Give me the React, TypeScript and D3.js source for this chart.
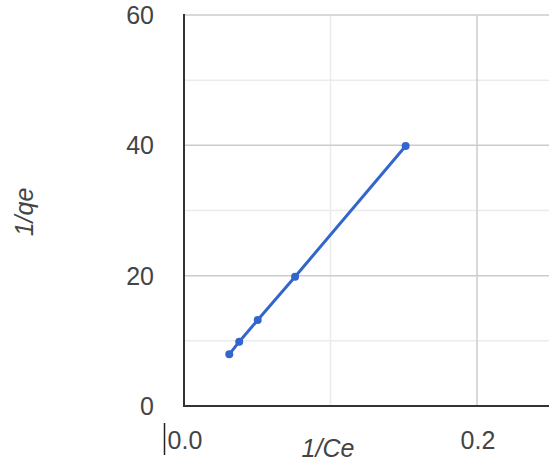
import React from "react";
import * as d3 from "d3";

const invCe = [0.0309, 0.0377, 0.0503, 0.0758, 0.1513];
const invQe = [7.93, 9.87, 13.2, 19.84, 39.9];
const yMajorTicks = [0, 20, 40, 60];
const yMinorTicks = [10, 30, 50];
const xMajorTicks = [0, 0.2];
const xMinorTicks = [0.1];
const xTickLabels = ["0.0", "0.2"];

export default function App() {
  const W = 549, H = 467;
  const x = d3.scaleLinear().domain([0, 0.25]).range([184, 550.25]);
  const y = d3.scaleLinear().domain([0, 60]).range([406, 15]);
  const pts = invCe.map((v, i) => [v, invQe[i]] as [number, number]);
  const line = d3.line<[number, number]>().x(d => x(d[0])).y(d => y(d[1]));
  const font = "Arial, 'Liberation Sans', sans-serif";
  return (
    <svg width={W} height={H} style={{ position: "absolute", left: 0, top: 0, background: "#fff" }}>
      <rect x={0} y={0} width={W} height={H} fill="#fff" />
      {yMinorTicks.map(t => (
        <line key={"ym" + t} x1={x(0)} x2={W} y1={y(t)} y2={y(t)} stroke="#ebebeb" strokeWidth={1.5} />
      ))}
      {xMinorTicks.map(t => (
        <line key={"xm" + t} x1={x(t)} x2={x(t)} y1={y(60)} y2={y(0)} stroke="#ebebeb" strokeWidth={1.5} />
      ))}
      {yMajorTicks.map(t => (
        <line key={"yM" + t} x1={x(0)} x2={W} y1={y(t)} y2={y(t)} stroke="#cccccc" strokeWidth={1.5} />
      ))}
      {xMajorTicks.map(t => (
        <line key={"xM" + t} x1={x(t)} x2={x(t)} y1={y(60)} y2={y(0)} stroke="#cccccc" strokeWidth={1.5} />
      ))}
      <line x1={x(0)} x2={x(0)} y1={y(60) - 1} y2={y(0) + 1} stroke="#333" strokeWidth={2} />
      <line x1={x(0)} x2={W} y1={y(0)} y2={y(0)} stroke="#333" strokeWidth={2} />
      {yMajorTicks.map(t => (
        <text key={"yl" + t} x={154} y={y(t)} dy="0.36em" textAnchor="end" fontFamily={font} fontSize={25} fill="#444">
          {t}
        </text>
      ))}
      {xMajorTicks.map((t, i) => (
        <text key={"xl" + t} x={x(t) + 1} y={449} textAnchor="middle" fontFamily={font} fontSize={25} fill="#444">
          {xTickLabels[i]}
        </text>
      ))}
      <line x1={164.5} x2={164.5} y1={423} y2={455} stroke="#222" strokeWidth={1.5} />
      <text x={328} y={457} textAnchor="middle" fontFamily={font} fontSize={25} fontStyle="italic" fill="#444">
        1/Ce
      </text>
      <text transform="translate(33,212) rotate(-90)" textAnchor="middle" fontFamily={font} fontSize={25} fontStyle="italic" fill="#444">
        1/qe
      </text>
      <path d={line(pts) || ""} fill="none" stroke="#3366cc" strokeWidth={3} />
      {pts.map((p, i) => (
        <circle key={i} cx={x(p[0])} cy={y(p[1])} r={4} fill="#3366cc" />
      ))}
    </svg>
  );
}
